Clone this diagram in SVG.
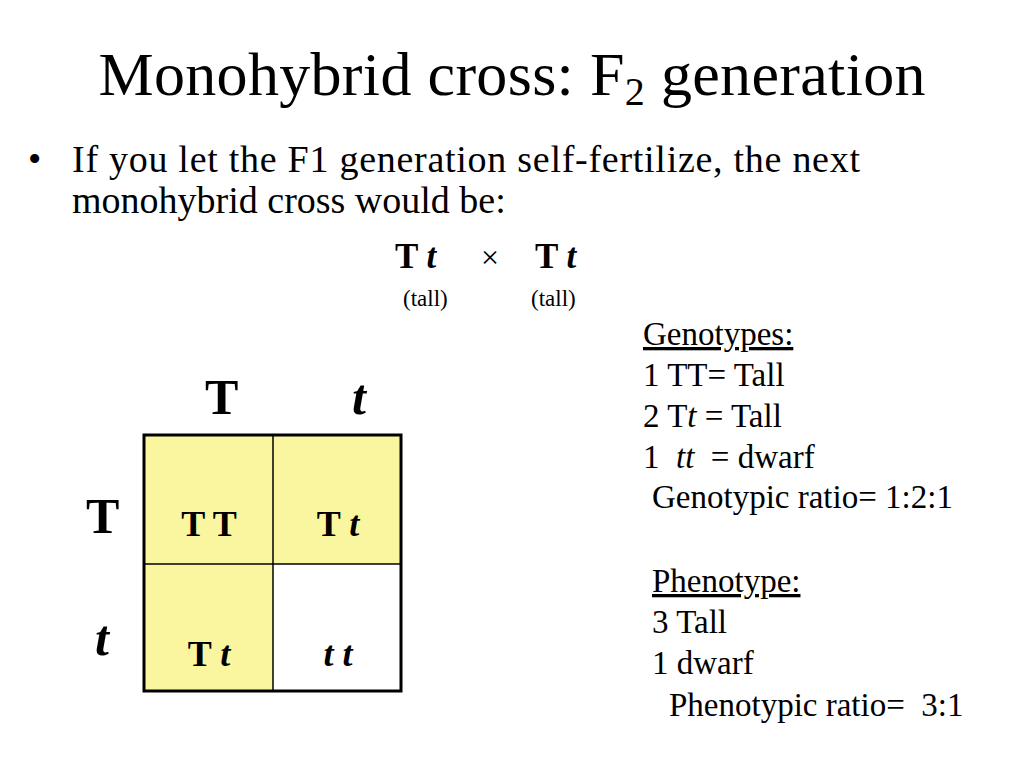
<svg xmlns="http://www.w3.org/2000/svg" width="1024" height="767" viewBox="0 0 1024 767">
<style>
text{font-family:"Liberation Serif","Times New Roman",serif;fill:#000}
.b{font-weight:bold}.i{font-style:italic}
.cell{font-size:36px;font-weight:bold;text-anchor:middle}
.hd{font-size:50px;font-weight:bold}
.r{font-size:33px}
</style>
<rect width="1024" height="767" fill="#fff"/>
<text x="512" y="95" font-size="62" text-anchor="middle" textLength="827">Monohybrid cross: F<tspan font-size="40" dy="10">2</tspan><tspan dy="-10"> generation</tspan></text>
<text x="28" y="172" font-size="38">•</text>
<text x="72" y="172" font-size="38" textLength="788">If you let the F1 generation self-fertilize, the next</text>
<text x="72" y="213" font-size="38">monohybrid cross would be:</text>
<text x="395" y="268" font-size="35" class="b">T <tspan class="i">t</tspan></text>
<text x="490" y="268" font-size="32" text-anchor="middle">×</text>
<text x="535" y="268" font-size="35" class="b">T <tspan class="i">t</tspan></text>
<text x="403" y="306" font-size="23">(tall)</text>
<text x="531" y="306" font-size="23">(tall)</text>
<g id="results">
<text x="643" y="345" class="r" text-decoration="underline">Genotypes:</text>
<text x="643" y="386" class="r">1 TT= Tall</text>
<text x="643" y="427" class="r">2 T<tspan class="i">t</tspan> = Tall</text>
<text x="643" y="468" class="r" xml:space="preserve">1  <tspan class="i">tt</tspan>  = dwarf</text>
<text x="652" y="508" class="r">Genotypic ratio= 1:2:1</text>
<text x="652" y="592" class="r" text-decoration="underline">Phenotype:</text>
<text x="652" y="633" class="r">3 Tall</text>
<text x="652" y="674" class="r">1 dwarf</text>
<text x="669" y="716" class="r" xml:space="preserve">Phenotypic ratio=  3:1</text>
</g>
<g id="headers">
<text x="205" y="414" class="hd">T</text>
<text x="352" y="414" class="hd i">t</text>
<text x="86" y="533" class="hd">T</text>
<text x="95" y="655" class="hd i">t</text>
</g>
<g id="punnett">
<rect x="144" y="435" width="257" height="256" fill="#FAF6A0"/>
<rect x="273" y="564" width="128" height="127" fill="#fff"/>
<line x1="273" y1="435" x2="273" y2="691" stroke="#000" stroke-width="1.5"/>
<line x1="144" y1="564" x2="401" y2="564" stroke="#000" stroke-width="1.5"/>
<rect x="144" y="435" width="257" height="256" fill="none" stroke="#000" stroke-width="3"/>
<text x="209" y="536" class="cell">T T</text>
<text x="338" y="536" class="cell">T <tspan class="i">t</tspan></text>
<text x="209" y="666" class="cell">T <tspan class="i">t</tspan></text>
<text x="338" y="666" class="cell i">t t</text>
</g>
</svg>
